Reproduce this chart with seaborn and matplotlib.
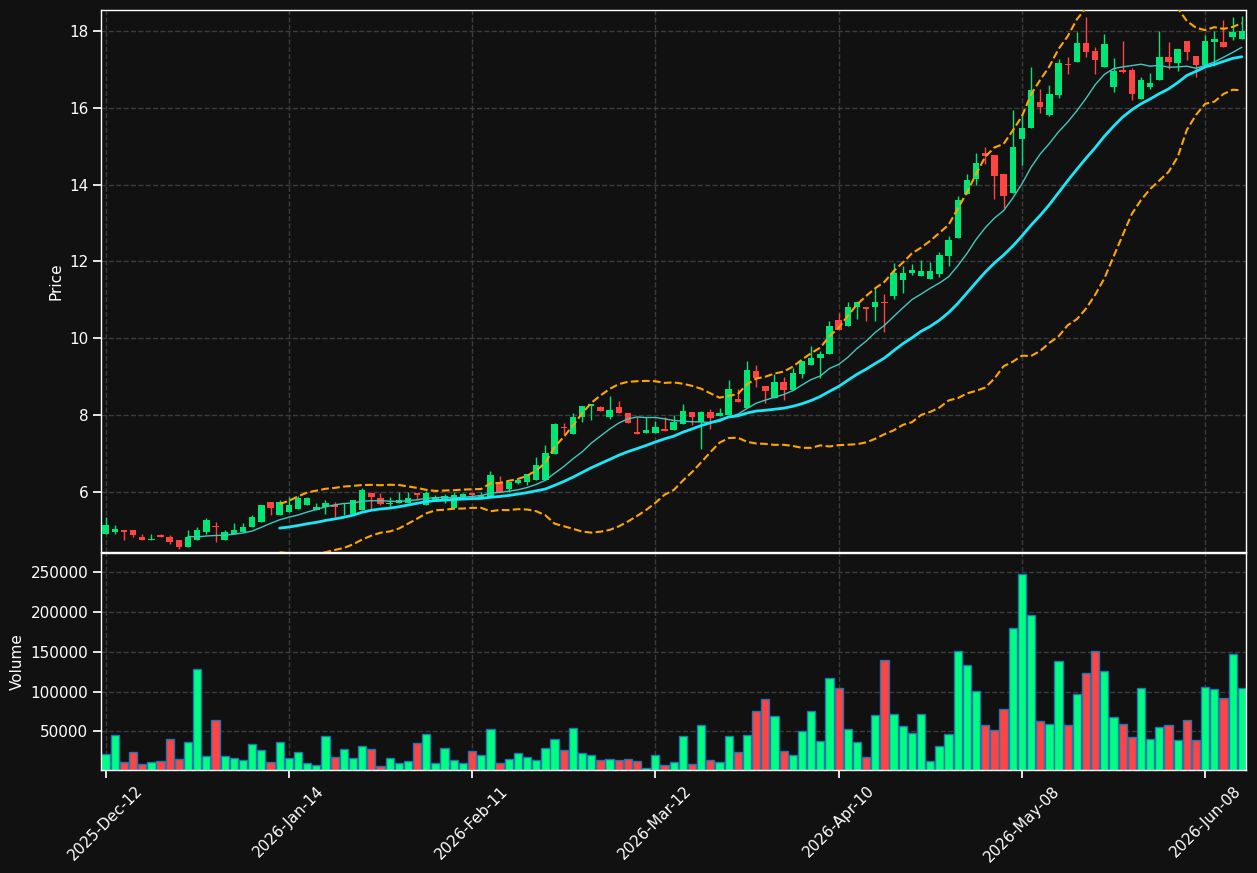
import numpy as np
import pandas as pd
import matplotlib
matplotlib.use("Agg")
import matplotlib.pyplot as plt
import seaborn as sns

# OHLC + volume, one entry per trading day
opens = [4.90, 4.95, 5.02, 5.00, 4.84, 4.74, 4.87, 4.82, 4.74, 4.58,
         4.74, 4.95, 5.10, 4.76, 4.92, 4.95, 5.10, 5.23, 5.75, 5.39,
         5.49, 5.57, 5.65, 5.52, 5.62, 5.65, 5.68, 5.44, 5.52, 5.98,
         5.85, 5.68, 5.71, 5.72, 5.98, 5.65, 5.79, 5.79, 5.58, 5.87,
         5.98, 5.88, 5.88, 6.27, 6.09, 6.24, 6.27, 6.32, 6.32, 6.99,
         7.69, 7.51, 7.95, 8.25, 8.21, 7.95, 8.21, 8.06, 7.56, 7.54,
         7.54, 7.64, 7.62, 7.77, 8.08, 7.82, 8.08, 7.98, 8.00, 8.42,
         8.19, 9.15, 8.76, 8.45, 8.86, 8.65, 9.07, 9.30, 9.48, 9.59,
         10.47, 10.32, 10.81, 10.81, 10.81, 10.94, 11.09, 11.51, 11.69, 11.61,
         11.53, 11.66, 12.13, 12.60, 13.76, 14.15, 14.83, 14.78, 14.28, 13.79,
         15.18, 15.47, 16.16, 15.82, 16.32, 17.14, 17.18, 17.69, 17.48, 17.05,
         16.53, 16.96, 16.99, 16.22, 16.53, 16.71, 17.33, 17.15, 17.74, 17.35,
         17.12, 17.72, 17.71, 17.85, 17.78]
highs = [5.35, 5.13, 5.02, 5.02, 4.92, 4.92, 4.92, 4.87, 4.74, 5.00,
         5.08, 5.33, 5.23, 5.00, 5.20, 5.20, 5.41, 5.65, 5.75, 5.80,
         5.88, 5.90, 5.87, 5.71, 5.80, 5.75, 5.72, 5.80, 6.10, 5.98,
         5.97, 5.88, 6.01, 6.01, 5.98, 6.02, 5.92, 5.96, 6.00, 5.98,
         5.98, 6.00, 6.55, 6.42, 6.27, 6.32, 6.47, 6.91, 7.23, 7.80,
         7.80, 8.06, 8.24, 8.29, 8.24, 8.50, 8.37, 8.06, 7.95, 7.95,
         7.85, 7.95, 8.00, 8.29, 8.08, 8.11, 8.16, 8.19, 8.91, 8.68,
         9.41, 9.30, 8.76, 9.07, 8.99, 9.22, 9.41, 9.79, 9.66, 10.44,
         10.67, 10.94, 10.94, 10.81, 11.30, 11.14, 11.95, 11.87, 11.92, 12.03,
         11.98, 12.24, 12.65, 13.69, 14.28, 14.83, 14.98, 14.78, 14.28, 15.94,
         15.80, 17.05, 16.49, 16.59, 17.27, 17.32, 17.98, 18.35, 17.58, 17.92,
         17.29, 17.74, 17.03, 16.80, 16.91, 17.99, 17.71, 17.53, 17.74, 17.35,
         17.88, 17.99, 18.28, 18.35, 18.38]
lows = [4.90, 4.90, 4.76, 4.84, 4.74, 4.74, 4.82, 4.66, 4.53, 4.56,
        4.74, 4.92, 4.71, 4.76, 4.92, 4.95, 5.10, 5.23, 5.41, 5.39,
        5.49, 5.57, 5.65, 5.52, 5.42, 5.35, 5.39, 5.44, 5.52, 5.57,
        5.65, 5.62, 5.71, 5.72, 5.78, 5.65, 5.79, 5.72, 5.58, 5.87,
        5.90, 5.88, 5.88, 6.01, 6.01, 6.22, 6.19, 6.32, 6.32, 6.99,
        7.51, 7.51, 7.82, 7.87, 8.11, 7.90, 8.06, 7.80, 7.51, 7.54,
        7.54, 7.59, 7.62, 7.77, 7.74, 7.11, 7.64, 7.98, 8.00, 8.34,
        8.19, 8.73, 8.32, 8.45, 8.40, 8.65, 8.96, 9.30, 8.96, 9.59,
        10.21, 10.32, 10.50, 10.44, 10.44, 10.17, 11.01, 11.17, 11.64, 11.61,
        11.53, 11.59, 11.87, 12.60, 13.76, 14.00, 14.54, 13.63, 13.40, 13.79,
        14.50, 15.47, 15.86, 15.78, 16.24, 16.88, 17.18, 17.32, 16.88, 17.05,
        16.42, 16.91, 16.21, 16.22, 16.49, 16.71, 17.00, 16.95, 17.23, 16.80,
        17.12, 17.08, 17.59, 17.75, 17.78]
closes = [5.13, 5.05, 4.95, 4.87, 4.76, 4.79, 4.84, 4.69, 4.56, 4.82,
          5.00, 5.28, 5.08, 4.95, 5.02, 5.10, 5.36, 5.65, 5.59, 5.75,
          5.67, 5.85, 5.85, 5.62, 5.72, 5.60, 5.72, 5.78, 6.06, 5.86,
          5.68, 5.72, 5.78, 5.85, 5.93, 5.98, 5.88, 5.90, 5.93, 5.96,
          5.93, 5.93, 6.45, 6.01, 6.27, 6.32, 6.47, 6.71, 7.02, 7.77,
          7.67, 7.95, 8.24, 8.29, 8.11, 8.13, 8.06, 7.80, 7.51, 7.62,
          7.69, 7.59, 7.82, 8.11, 7.95, 8.08, 7.93, 8.06, 8.68, 8.34,
          9.17, 8.96, 8.63, 8.86, 8.65, 9.09, 9.41, 9.48, 9.59, 10.31,
          10.21, 10.81, 10.94, 10.76, 10.94, 10.91, 11.71, 11.71, 11.77, 11.74,
          11.74, 12.16, 12.57, 13.61, 14.13, 14.57, 14.75, 14.23, 13.71, 14.98,
          15.46, 16.47, 16.03, 16.36, 17.17, 17.10, 17.69, 17.46, 17.25, 17.66,
          16.96, 16.94, 16.35, 16.73, 16.65, 17.33, 17.20, 17.53, 17.44, 17.12,
          17.74, 17.79, 17.59, 17.97, 18.00]
volumes = [21250, 45000, 11250, 23750, 8750, 11250, 12500, 40000, 15000, 36250,
           128750, 18750, 65000, 18750, 16250, 13750, 33750, 26250, 11250, 36250,
           16250, 23750, 10000, 7500, 43750, 17500, 27500, 16250, 31250, 27500,
           6250, 16250, 10000, 12500, 35000, 46250, 10000, 28750, 13750, 10000,
           25000, 20000, 52500, 10000, 15000, 22500, 17500, 13750, 28750, 40000,
           26250, 53750, 22500, 20000, 13750, 15000, 13750, 15000, 12500, 3750,
           20000, 7500, 11250, 43750, 8750, 57500, 13750, 11250, 43750, 23750,
           45000, 76250, 91250, 70000, 25000, 20000, 50000, 76250, 37500, 117500,
           105000, 52500, 36250, 17500, 71250, 140000, 72500, 56250, 47500, 72500,
           12500, 31250, 46250, 151250, 133750, 101250, 57500, 51250, 78750, 180000,
           247500, 196250, 62500, 58750, 138750, 57500, 97500, 123750, 151250, 126250,
           68750, 58750, 42500, 105000, 40000, 55000, 57500, 38750, 65000, 38750,
           106250, 103750, 92500, 147500, 105000]

tick_labels = ['2025-Dec-12', '2026-Jan-14', '2026-Feb-11', '2026-Mar-12',
               '2026-Apr-10', '2026-May-08', '2026-Jun-08']

df = pd.DataFrame({'open': opens, 'high': highs, 'low': lows,
                   'close': closes, 'volume': volumes})
df['idx'] = np.arange(len(df))
df['up'] = df['close'] >= df['open']
df['dir'] = np.where(df['up'], 'up', 'down')
df['ma10'] = df['close'].rolling(10).mean()
df['ma20'] = df['close'].rolling(20).mean()
std20 = df['close'].rolling(20).std(ddof=0)
df['bb_up'] = df['ma20'] + 2 * std20
df['bb_lo'] = df['ma20'] - 2 * std20

bg = '#111111'
sns.set_theme(style='dark', rc={
    'figure.facecolor': bg, 'axes.facecolor': bg, 'axes.edgecolor': 'white',
    'axes.labelcolor': 'white', 'xtick.color': 'white', 'ytick.color': 'white',
    'text.color': 'white', 'grid.color': '#3c3c3c', 'grid.linestyle': '--',
    'xtick.bottom': True, 'ytick.left': True,
})
plt.rcParams['font.family'] = ['DejaVu Sans']

fig = plt.figure(figsize=(12.57, 8.73), dpi=100)
ax = fig.add_axes([0.0807, 0.3677, 0.9105, 0.6208])
axv = fig.add_axes([0.0807, 0.118, 0.9105, 0.2486], sharex=ax)

candle_up, candle_dn = '#00e676', '#ff4444'
ccol = np.where(df['up'], candle_up, candle_dn)

# wicks and bodies
ax.vlines(df['idx'], df['low'], df['high'], colors=ccol, linewidth=1, zorder=2)
body = (df['close'] - df['open']).abs().clip(lower=0.03)
ax.bar(df['idx'], body, bottom=df[['open', 'close']].min(axis=1),
       width=0.7, color=ccol, linewidth=0, zorder=3)

sns.lineplot(data=df, x='idx', y='ma10', ax=ax, color='#40c8c0', linewidth=1, zorder=4)
sns.lineplot(data=df, x='idx', y='ma20', ax=ax, color='#18e8f8', linewidth=2, zorder=4)
sns.lineplot(data=df, x='idx', y='bb_up', ax=ax, color='orange', linewidth=1.5,
             linestyle='--', zorder=4)
sns.lineplot(data=df, x='idx', y='bb_lo', ax=ax, color='orange', linewidth=1.5,
             linestyle='--', zorder=4)

sns.barplot(data=df, x='idx', y='volume', hue='dir', native_scale=True,
            palette={'up': '#00ff80', 'down': '#ff4444'}, dodge=False,
            saturation=1, width=0.9, edgecolor='#1f77b4', linewidth=1,
            legend=False, ax=axv)

ax.set_ylim(4.44, 18.54)
ax.set_ylabel('Price', fontsize=11)
ax.set_xlabel('')
ax.tick_params(axis='x', labelbottom=False)
axv.set_ylim(1650, 274000)
axv.set_ylabel('Volume', fontsize=11)
axv.set_xlabel('')
axv.set_xlim(-0.45, 124.45)
axv.set_xticks(np.arange(0, len(df), 20))
axv.set_xticklabels(tick_labels, rotation=45, fontsize=11)
axv.set_yticks([50000, 100000, 150000, 200000, 250000])
axv.ticklabel_format(axis='y', style='plain')

for a in (ax, axv):
    a.grid(True, linestyle='--', color='#3c3c3c', linewidth=1)
    a.tick_params(axis='y', labelsize=11, colors='white')
    for s in a.spines.values():
        s.set_color('white')
        s.set_linewidth(1)

fig.savefig('out.png', dpi=100, facecolor=bg)
